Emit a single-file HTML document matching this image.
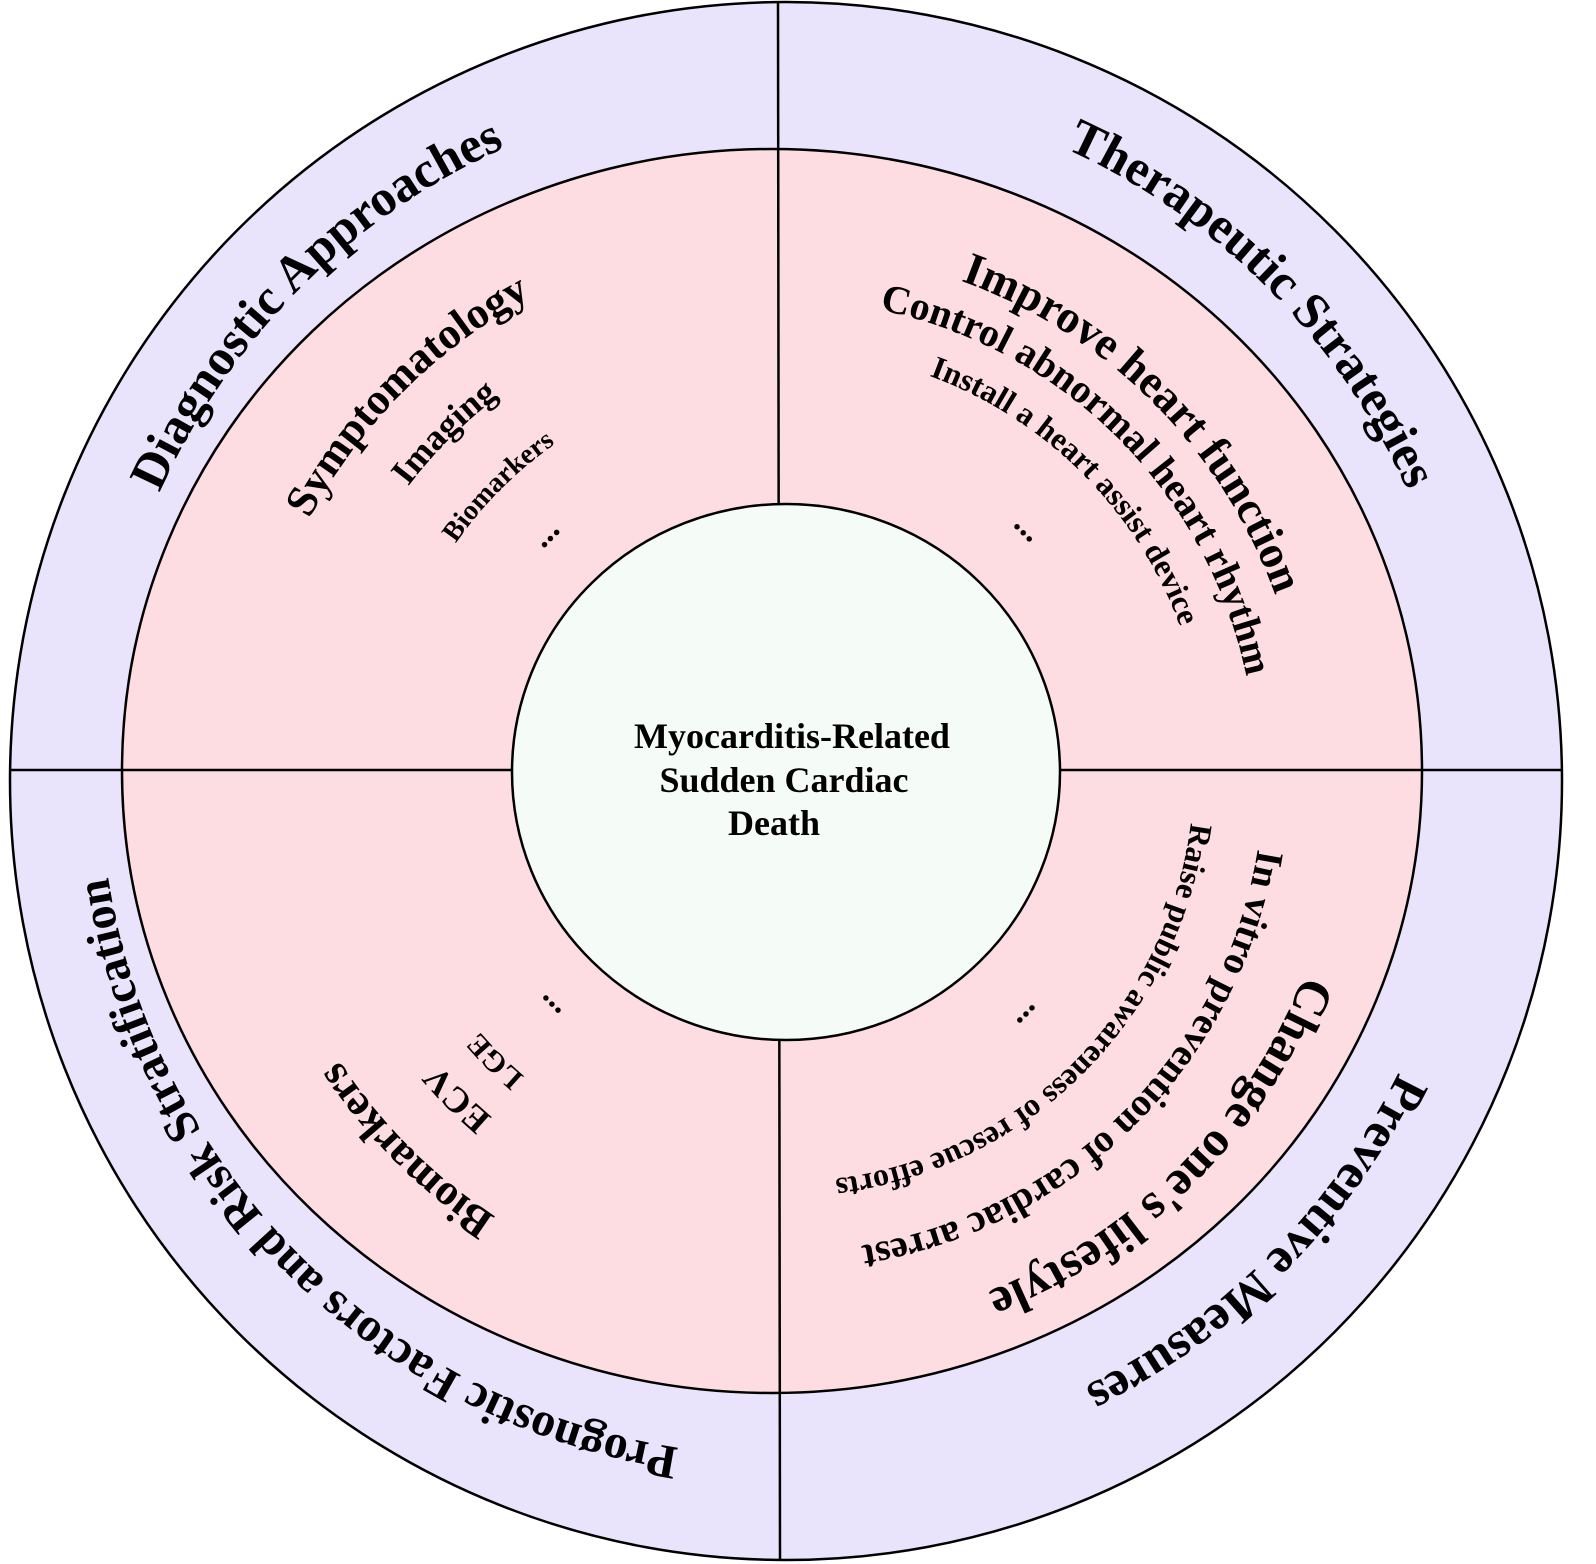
<!DOCTYPE html>
<html><head><meta charset="utf-8"><style>
html,body{margin:0;padding:0;background:#fff;}
svg{display:block;}
text{font-family:"Liberation Serif",serif;font-weight:bold;fill:#000;}
</style></head><body>
<svg width="1596" height="1564" viewBox="0 0 1596 1564" xmlns="http://www.w3.org/2000/svg">
<defs>
<path id="o1" d="M 100 772 A 684 684 0 0 1 784 88"/>
<path id="o2" d="M 784 88 A 684 684 0 0 1 1468 772"/>
<path id="o3" d="M 1468 772 A 684 684 0 0 1 784 1456"/>
<path id="o4" d="M 784 1456 A 684 684 0 0 1 100 772"/>
<path id="a1" d="M 246 772 A 538 538 0 0 1 784 234"/>
<path id="a2" d="M 312 772 A 472 472 0 0 1 784 300"/>
<path id="a3" d="M 384 772 A 400 400 0 0 1 784 372"/>
<path id="a4" d="M 456 772 A 328 328 0 0 1 784 444"/>
<path id="b1" d="M 784 250 A 522 522 0 0 1 1306 772"/>
<path id="b2" d="M 784 300 A 472 472 0 0 1 1256 772"/>
<path id="b3" d="M 784 350 A 422 422 0 0 1 1206 772"/>
<path id="b4" d="M 784 436 A 336 336 0 0 1 1120 772"/>
<path id="c1" d="M 1342 772 A 558 558 0 0 1 784 1330"/>
<path id="c2" d="M 1264 772 A 480 480 0 0 1 784 1252"/>
<path id="c3" d="M 1194 772 A 410 410 0 0 1 784 1182"/>
<path id="c4" d="M 1124 772 A 340 340 0 0 1 784 1112"/>
<path id="d1" d="M 784 1302 A 530 530 0 0 1 254 772"/>
<path id="d2" d="M 784 1224 A 452 452 0 0 1 332 772"/>
<path id="d3" d="M 784 1172 A 400 400 0 0 1 384 772"/>
<path id="d4" d="M 784 1098 A 326 326 0 0 1 458 772"/>
</defs>
<ellipse cx="786" cy="781" rx="776" ry="779" fill="#e9e4fc" stroke="#000" stroke-width="2.5"/>
<ellipse cx="772" cy="771" rx="650" ry="622" fill="#fddde2" stroke="#000" stroke-width="2.5"/>
<line x1="778" y1="2" x2="780" y2="1560" stroke="#000" stroke-width="2.5"/>
<line x1="10" y1="770" x2="1562" y2="770" stroke="#000" stroke-width="2.5"/>
<ellipse cx="786" cy="772" rx="274" ry="268" fill="#f5fcf8" stroke="#000" stroke-width="2.5"/>

<text font-size="51" text-anchor="middle"><textPath href="#o1" startOffset="50%">Diagnostic Approaches</textPath></text>
<text font-size="51" text-anchor="middle"><textPath href="#o2" startOffset="50%">Therapeutic Strategies</textPath></text>
<text font-size="51" text-anchor="middle"><textPath href="#o3" startOffset="50%">Preventive Measures</textPath></text>
<text font-size="48" text-anchor="middle"><textPath href="#o4" startOffset="50%">Prognostic Factors and Risk Stratification</textPath></text>

<text font-size="44" text-anchor="middle"><textPath href="#a1" startOffset="50%">Symptomatology</textPath></text>
<text font-size="36" text-anchor="middle"><textPath href="#a2" startOffset="50%">Imaging</textPath></text>
<text font-size="28" text-anchor="middle"><textPath href="#a3" startOffset="50%">Biomarkers</textPath></text>
<text font-size="34" text-anchor="middle"><textPath href="#a4" startOffset="50%">...</textPath></text>

<text font-size="46" text-anchor="middle"><textPath href="#b1" startOffset="50%">Improve heart function</textPath></text>
<text font-size="40" text-anchor="middle"><textPath href="#b2" startOffset="50%">Control abnormal heart rhythm</textPath></text>
<text font-size="32" text-anchor="middle"><textPath href="#b3" startOffset="50%">Install a heart assist device</textPath></text>
<text font-size="34" text-anchor="middle"><textPath href="#b4" startOffset="50%">...</textPath></text>

<text font-size="50" text-anchor="middle"><textPath href="#c1" startOffset="50%">Change one's lifestyle</textPath></text>
<text font-size="39" text-anchor="middle"><textPath href="#c2" startOffset="50%">In vitro prevention of cardiac arrest</textPath></text>
<text font-size="32" text-anchor="middle"><textPath href="#c3" startOffset="50%">Raise public awareness of rescue efforts</textPath></text>
<text font-size="34" text-anchor="middle"><textPath href="#c4" startOffset="50%">...</textPath></text>

<text font-size="44" text-anchor="middle"><textPath href="#d1" startOffset="50%">Biomarkers</textPath></text>
<text font-size="36" text-anchor="middle"><textPath href="#d2" startOffset="50%">ECV</textPath></text>
<text font-size="30" text-anchor="middle"><textPath href="#d3" startOffset="50%">LGE</textPath></text>
<text font-size="34" text-anchor="middle"><textPath href="#d4" startOffset="50%">...</textPath></text>

<text font-size="36" text-anchor="middle" x="792" y="748">Myocarditis-Related</text>
<text font-size="36" text-anchor="middle" x="784" y="792">Sudden Cardiac</text>
<text font-size="36" text-anchor="middle" x="774" y="835">Death</text>
</svg>
</body></html>
